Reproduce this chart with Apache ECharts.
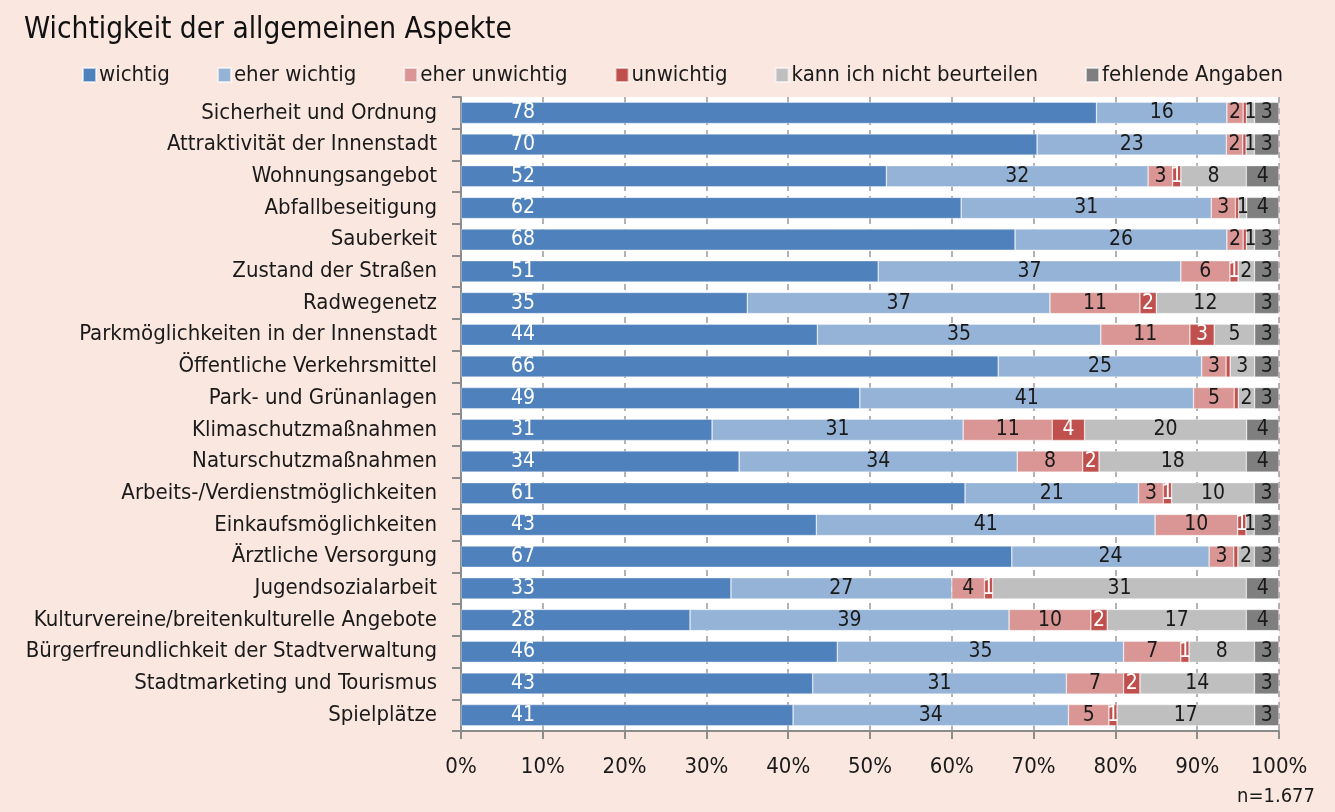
<!DOCTYPE html>
<html>
<head>
<meta charset="utf-8">
<script src="https://cdn.jsdelivr.net/npm/echarts@6/dist/echarts.min.js"></script>
<style>
    html, body { margin: 0; padding: 0; background: #f9e7e0; }
    #chart { width: 1335px; height: 812px; }
</style>
</head>
<body>
<div id="chart"></div>
<script>
const categories = [
    'Sicherheit und Ordnung',
    'Attraktivität der Innenstadt',
    'Wohnungsangebot',
    'Abfallbeseitigung',
    'Sauberkeit',
    'Zustand der Straßen',
    'Radwegenetz',
    'Parkmöglichkeiten in der Innenstadt',
    'Öffentliche Verkehrsmittel',
    'Park- und Grünanlagen',
    'Klimaschutzmaßnahmen',
    'Naturschutzmaßnahmen',
    'Arbeits-/Verdienstmöglichkeiten',
    'Einkaufsmöglichkeiten',
    'Ärztliche Versorgung',
    'Jugendsozialarbeit',
    'Kulturvereine/breitenkulturelle Angebote',
    'Bürgerfreundlichkeit der Stadtverwaltung',
    'Stadtmarketing und Tourismus',
    'Spielplätze'
];

// shares in percent, as labelled in the picture (slivers without label estimated)
const wichtig        = [78, 70, 52, 62, 68, 51, 35, 44, 66, 49, 31, 34, 61, 43, 67, 33, 28, 46, 43, 41];
const eherWichtig    = [16, 23, 32, 31, 26, 37, 37, 35, 25, 41, 31, 34, 21, 41, 24, 27, 39, 35, 31, 34];
const eherUnwichtig  = [2, 2, 3, 3, 2, 6, 11, 11, 3, 5, 11, 8, 3, 10, 3, 4, 10, 7, 7, 5];
const unwichtig      = [0.4, 0.4, 1, 0.4, 0.4, 1, 2, 3, 0.5, 0.5, 4, 2, 1, 1, 0.5, 1, 2, 1, 2, 1];
const nichtBeurteilen = [1, 1, 8, 1, 1, 2, 12, 5, 3, 2, 20, 18, 10, 1, 2, 31, 17, 8, 14, 17];
const fehlend        = [3, 3, 4, 4, 3, 3, 3, 3, 3, 3, 4, 4, 3, 3, 3, 4, 4, 3, 3, 3];

const seriesNames = ['wichtig', 'eher wichtig', 'eher unwichtig', 'unwichtig', 'kann ich nicht beurteilen', 'fehlende Angaben'];
const seriesData = [wichtig, eherWichtig, eherUnwichtig, unwichtig, nichtBeurteilen, fehlend];
const colors = ['#4f81bd', '#95b3d7', '#d99694', '#c0504d', '#bfbfbf', '#7f7f7f'];
const labelColors = ['#ffffff', '#1a1a1a', '#1a1a1a', '#ffffff', '#1a1a1a', '#1a1a1a'];
const xTicks = [0, 10, 20, 30, 40, 50, 60, 70, 80, 90, 100];

const FONT = '"Liberation Sans Narrow", "DejaVu Sans Condensed", "Roboto", sans-serif';

// each bar is stretched to 100% like the original
const rowSums = categories.map((c, i) => seriesData.reduce((s, arr) => s + arr[i], 0));

const chart = echarts.init(document.getElementById('chart'), null, { renderer: 'canvas' });

const series = seriesNames.map((name, k) => ({
    name: name,
    type: 'bar',
    stack: 'total',
    barCategoryGap: '33%',
    itemStyle: { color: colors[k], borderColor: 'rgba(255,255,255,0.6)', borderWidth: 0.6 },
    emphasis: { disabled: true },
    data: seriesData[k].map((v, i) => v / rowSums[i] * 100),
    label: {
        show: true,
        position: k === 0 ? [62, '50%'] : 'inside',
        align: 'center',
        verticalAlign: 'middle',
        color: labelColors[k],
        fontFamily: FONT,
        fontSize: 21,
        formatter: function (p) {
            const raw = seriesData[k][p.dataIndex];
            return raw >= 1 ? String(raw) : '';
        }
    }
}));

chart.setOption({
    backgroundColor: '#f9e7e0',
    animation: false,
    color: colors,
    title: [
        {
            text: 'Wichtigkeit der allgemeinen Aspekte',
            left: 19,
            top: 10,
            textStyle: { fontFamily: FONT, fontSize: 29.5, fontWeight: 'normal', color: '#111' }
        },
        {
            text: 'n=1.677',
            right: 15,
            bottom: 0,
            textStyle: { fontFamily: FONT, fontSize: 20, fontWeight: 'normal', color: '#1a1a1a' }
        }
    ],
    legend: {
        left: 77,
        top: 59,
        itemWidth: 13,
        itemHeight: 14,
        itemGap: 47,
        icon: 'rect',
        textStyle: { fontFamily: FONT, fontSize: 22, color: '#1a1a1a', padding: [0, 0, 0, -2] },
        data: seriesNames
    },
    grid: {
        left: 461,
        right: 56,
        top: 97,
        bottom: 81,
        show: true,
        backgroundColor: '#ffffff',
        borderWidth: 0
    },
    xAxis: {
        type: 'value',
        min: 0,
        max: 100,
        interval: 10,
        axisLine: { show: true, lineStyle: { color: '#8c8c8c', width: 2 } },
        axisTick: { show: true, length: 8, lineStyle: { color: '#8c8c8c', width: 2 } },
        splitLine: { show: true, lineStyle: { color: '#9a9a9a', width: 1.5, type: [6, 5] } },
        axisLabel: {
            margin: 25,
            fontFamily: FONT,
            fontSize: 22,
            color: '#1a1a1a',
            formatter: function (v) { return xTicks.indexOf(v) >= 0 ? v + '%' : ''; }
        }
    },
    yAxis: {
        type: 'category',
        inverse: true,
        data: categories,
        axisLine: { show: true, lineStyle: { color: '#8c8c8c', width: 2 } },
        axisTick: { show: true, length: 9, lineStyle: { color: '#8c8c8c', width: 2 } },
        axisLabel: {
            margin: 24,
            fontFamily: FONT,
            fontSize: 22,
            color: '#1a1a1a'
        }
    },
    series: series
});
</script>
</body>
</html>
